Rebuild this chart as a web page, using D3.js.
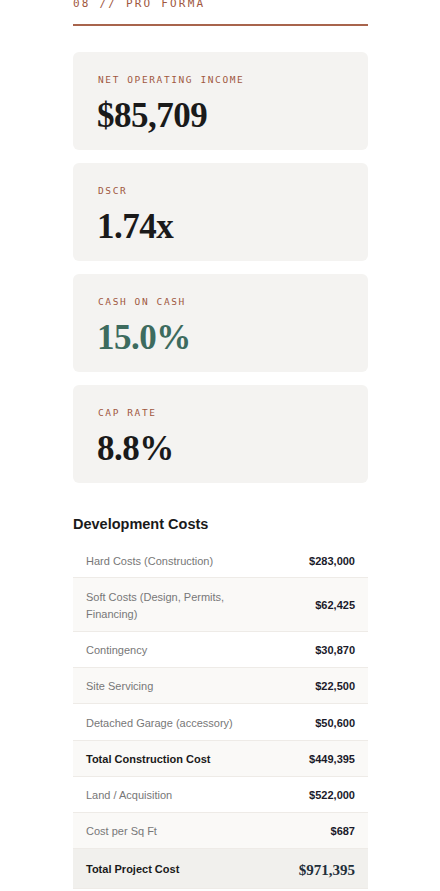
<!DOCTYPE html>
<html><head><meta charset="utf-8">
<script src="https://cdn.jsdelivr.net/npm/d3@7"></script>
<style>body{margin:0;background:#fff}</style>
</head><body><svg id="c" width="440" height="891"></svg>
<script>
const metricLabels=["NET OPERATING INCOME","DSCR","CASH ON CASH","CAP RATE"];
const metricValues=["$85,709","1.74x","15.0%","8.8%"];
const metricHighlight=[false,false,true,false];
const rowLabels=[["Hard Costs (Construction)"],["Soft Costs (Design, Permits,","Financing)"],["Contingency"],["Site Servicing"],["Detached Garage (accessory)"],["Total Construction Cost"],["Land / Acquisition"],["Cost per Sq Ft"],["Total Project Cost"]];
const rowValues=[283000,62425,30870,22500,50600,449395,522000,687,971395];
const rowBold=[false,false,false,false,false,true,false,false,true];
const rowHeights=[35,54,36,36,37,36,36,36,40];

const svg=d3.select("#c");
const L=73,R=368,W=R-L;
svg.append("text").attr("x",L).attr("y",7).attr("font-family","DejaVu Sans Mono").attr("font-size",11).attr("letter-spacing",2.2).attr("fill","#a0583f").text("08 // PRO FORMA");
svg.append("rect").attr("x",L).attr("y",24).attr("width",W).attr("height",2).attr("fill","#a8644c");

const cy=d3.scaleBand().domain(d3.range(4)).range([52,52+111*3+98]).paddingInner(13/111);
const g=svg.selectAll("g.card").data(metricLabels).join("g").attr("transform",(d,i)=>`translate(${L},${cy(i)})`);
g.append("rect").attr("width",W).attr("height",cy.bandwidth()).attr("rx",6).attr("fill","#f4f3f1");
g.append("text").attr("x",25).attr("y",31).attr("font-family","DejaVu Sans Mono").attr("font-size",9.5).attr("letter-spacing",1.6).attr("fill","#a0583f").text(d=>d);
g.append("text").attr("x",24).attr("y",75).attr("font-family","Liberation Serif").attr("font-weight","bold").attr("font-size",35).attr("letter-spacing",-0.5)
 .attr("fill",(d,i)=>metricHighlight[i]?"#3d6b5e":"#1a1a1a").text((d,i)=>metricValues[i]);

svg.append("text").attr("x",L).attr("y",529).attr("font-family","Liberation Sans").attr("font-weight","bold").attr("font-size",14.5).attr("fill","#1a1a1a").text("Development Costs");

const tops=[];let y=543;rowHeights.forEach(h=>{tops.push(y);y+=h;});
const fmt=d3.format("$,");
const rows=svg.selectAll("g.row").data(rowValues).join("g").attr("transform",(d,i)=>`translate(${L},${tops[i]})`);
rows.append("rect").attr("width",W).attr("height",(d,i)=>rowHeights[i])
 .attr("fill",(d,i)=>i==8?"#f1f0ed":(i%2?"#faf9f7":"#fff"));
rows.append("rect").attr("y",(d,i)=>rowHeights[i]-1).attr("width",W).attr("height",1).attr("fill","#eeebe7");
rows.each(function(d,i){
 const s=d3.select(this),lines=rowLabels[i],h=rowHeights[i];
 const t=s.append("text").attr("font-family","Liberation Sans").attr("font-size",11).attr("fill",rowBold[i]?"#1a1a1a":"#777").attr("font-weight",rowBold[i]?"bold":"normal");
 lines.forEach((ln,k)=>t.append("tspan").attr("x",13).attr("y",h/2+4+(k-(lines.length-1)/2)*17).text(ln));
 s.append("text").attr("x",282).attr("y",i==8?h/2+6:h/2+4).attr("text-anchor","end")
  .attr("font-family",i==8?"Liberation Serif":"Liberation Sans").attr("font-weight","bold").attr("font-size",i==8?15:11)
  .attr("fill",i==8?"#1f2f3a":"#1a1a2a").text(fmt(d));
});
</script></body></html>
